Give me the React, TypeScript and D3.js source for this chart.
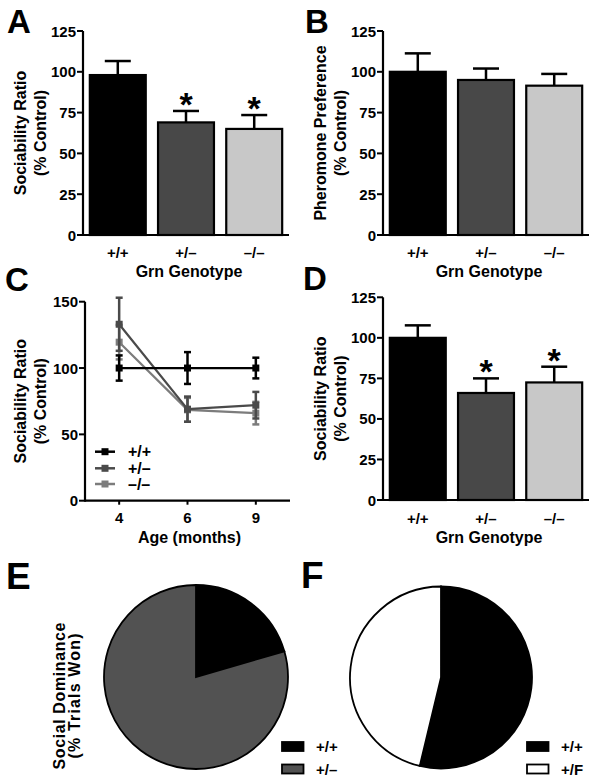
import React from "react";
import * as d3 from "d3";

// ---------- data ----------
const genotypes = ["+/+", "+/–", "–/–"];
const barColors = ["#000000", "#484848", "#c8c8c8"];

const sociabilityA = [98, 69, 65];
const semA = [8.6, 7, 8.5];
const sigA = [false, true, true];

const pheromoneB = [100, 95, 91.5];
const semB = [11.3, 7, 7.2];
const sigB = [false, false, false];

const sociabilityD = [100, 66, 72.5];
const semD = [7.7, 9, 9.7];
const sigD = [false, true, true];

const barTicks = [0, 25, 50, 75, 100, 125];

const ages = [4, 6, 9];
const ageTicks = [0, 50, 100, 150];
const wtC = [100, 100, 100];
const wtErrC = [9.5, 12, 7.8];
const hetC = [133, 69, 72];
const hetErrC = [20, 9.5, 10];
const koC = [119.5, 68.5, 66];
const koErrC = [13, 9, 8.5];
const lineColors = ["#000000", "#4a4a4a", "#7c7c7c"];

const dominanceE = [20.5, 79.5];
const pieColorsE = ["#000000", "#525252"];
const legendE = ["+/+", "+/–"];

const dominanceF = [53.75, 46.25];
const pieColorsF = ["#000000", "#ffffff"];
const legendF = ["+/+", "+/F"];

const FONT = "'Liberation Sans', Arial, Helvetica, sans-serif";

// ---------- components ----------
function YAxis({ x, scale, ticks }: { x: number; scale: any; ticks: number[] }) {
  const [r0, r1] = scale.range();
  return (
    <g>
      <line x1={x} x2={x} y1={r0 + 1} y2={r1} stroke="#000" strokeWidth={2.2} />
      {ticks.map((t) => (
        <g key={t}>
          <line x1={x - 6} x2={x} y1={scale(t)} y2={scale(t)} stroke="#000" strokeWidth={2} />
          <text
            x={x - 7}
            y={scale(t)}
            textAnchor="end"
            dominantBaseline="central"
            fontSize={15}
            fontWeight="bold"
          >
            {t}
          </text>
        </g>
      ))}
    </g>
  );
}

function YLabel({ x1, x2, cy, l1, l2 }: { x1: number; x2: number; cy: number; l1: string; l2: string }) {
  return (
    <g>
      <text
        transform={`translate(${x1},${cy}) rotate(-90)`}
        textAnchor="middle"
        dominantBaseline="central"
        fontSize={16}
        fontWeight="bold"
      >
        {l1}
      </text>
      <text
        transform={`translate(${x2},${cy}) rotate(-90)`}
        textAnchor="middle"
        dominantBaseline="central"
        fontSize={16}
        fontWeight="bold"
      >
        {l2}
      </text>
    </g>
  );
}

function BarPanel({
  ox,
  yTop,
  yBottom,
  values,
  sems,
  sig,
  label1,
  label2,
  tickY,
  titleY,
}: {
  ox: number;
  yTop: number;
  yBottom: number;
  values: number[];
  sems: number[];
  sig: boolean[];
  label1: string;
  label2: string;
  tickY: number;
  titleY: number;
}) {
  const axisX = ox + 83;
  const xEnd = ox + 289;
  const y = d3.scaleLinear().domain([0, 125]).range([yBottom, yTop]);
  const x = d3.scaleBand<string>().domain(genotypes).range([axisX, xEnd]).paddingInner(0.18).paddingOuter(0.1);
  return (
    <g>
      {genotypes.map((g, i) => {
        const bx = x(g)!;
        const bw = x.bandwidth();
        const cx = bx + bw / 2;
        const top = y(values[i]);
        const errTop = y(values[i] + sems[i]);
        return (
          <g key={g}>
            <line x1={cx} x2={cx} y1={top} y2={errTop} stroke="#000" strokeWidth={2.5} />
            <line x1={cx - 13} x2={cx + 13} y1={errTop} y2={errTop} stroke="#000" strokeWidth={2.5} />
            <rect
              x={bx}
              y={top}
              width={bw}
              height={yBottom - top}
              fill={barColors[i]}
              stroke="#000"
              strokeWidth={2.2}
            />
            {sig[i] && (
              <text x={cx} y={errTop + 5} textAnchor="middle" fontSize={34} fontWeight="bold">
                *
              </text>
            )}
            <text x={cx} y={tickY} textAnchor="middle" dominantBaseline="central" fontSize={15} fontWeight="bold">
              {g}
            </text>
          </g>
        );
      })}
      <line x1={axisX} x2={xEnd} y1={yBottom} y2={yBottom} stroke="#000" strokeWidth={2.2} />
      <YAxis x={axisX} scale={y} ticks={barTicks} />
      <text
        x={(axisX + xEnd) / 2 + 3}
        y={titleY}
        textAnchor="middle"
        dominantBaseline="central"
        fontSize={16}
        fontWeight="bold"
      >
        Grn Genotype
      </text>
      <YLabel x1={ox + 20} x2={ox + 40} cy={(yTop + yBottom) / 2} l1={label1} l2={label2} />
    </g>
  );
}

function LinePanel() {
  const axisX = 85;
  const xEnd = 290;
  const yTop = 301.7;
  const yBottom = 500.7;
  const y = d3.scaleLinear().domain([0, 150]).range([yBottom, yTop]);
  const x = d3.scalePoint<number>().domain(ages).range([axisX, xEnd]).padding(0.5);
  const series = [
    { name: "–/–", vals: koC, errs: koErrC, color: lineColors[2] },
    { name: "+/–", vals: hetC, errs: hetErrC, color: lineColors[1] },
    { name: "+/+", vals: wtC, errs: wtErrC, color: lineColors[0] },
  ];
  const line = d3
    .line<number>()
    .x((_, i) => x(ages[i])!)
    .y((v) => y(v));
  const legend = [
    { name: "+/+", color: lineColors[0] },
    { name: "+/–", color: lineColors[1] },
    { name: "–/–", color: lineColors[2] },
  ];
  const legendY = [451.7, 468.3, 484];
  return (
    <g>
      {series.map((s) => (
        <g key={s.name}>
          <path d={line(s.vals) || ""} fill="none" stroke={s.color} strokeWidth={2.2} />
          {s.vals.map((v, i) => {
            const cx = x(ages[i])!;
            const hi = y(v + s.errs[i]);
            const lo = y(v - s.errs[i]);
            return (
              <g key={i}>
                <line x1={cx} x2={cx} y1={hi} y2={lo} stroke={s.color} strokeWidth={2.5} />
                <line x1={cx - 3.5} x2={cx + 3.5} y1={hi} y2={hi} stroke={s.color} strokeWidth={2.5} />
                <line x1={cx - 3.5} x2={cx + 3.5} y1={lo} y2={lo} stroke={s.color} strokeWidth={2.5} />
                <rect x={cx - 3.5} y={y(v) - 3.5} width={7} height={7} fill={s.color} />
              </g>
            );
          })}
        </g>
      ))}
      <line x1={axisX} x2={xEnd} y1={yBottom} y2={yBottom} stroke="#000" strokeWidth={2.2} />
      {ages.map((a) => (
        <g key={a}>
          <line x1={x(a)!} x2={x(a)!} y1={yBottom} y2={yBottom + 4} stroke="#000" strokeWidth={2} />
          <text x={x(a)!} y={517} textAnchor="middle" dominantBaseline="central" fontSize={15} fontWeight="bold">
            {a}
          </text>
        </g>
      ))}
      <YAxis x={axisX} scale={y} ticks={ageTicks} />
      <text x={(axisX + xEnd) / 2 + 2} y={537} textAnchor="middle" dominantBaseline="central" fontSize={16} fontWeight="bold">
        Age (months)
      </text>
      <YLabel x1={20} x2={40} cy={(yTop + yBottom) / 2} l1="Sociability Ratio" l2="(% Control)" />
      {legend.map((l, i) => (
        <g key={l.name}>
          <line x1={95} x2={115} y1={legendY[i]} y2={legendY[i]} stroke={l.color} strokeWidth={2.5} />
          <rect x={101.5} y={legendY[i] - 3.5} width={7} height={7} fill={l.color} />
          <text x={128} y={legendY[i]} dominantBaseline="central" fontSize={16} fontWeight="bold">
            {l.name}
          </text>
        </g>
      ))}
    </g>
  );
}

function PiePanel({
  cx,
  cy,
  r,
  values,
  colors,
  legend,
  legendX,
}: {
  cx: number;
  cy: number;
  r: number;
  values: number[];
  colors: string[];
  legend: string[];
  legendX: number;
}) {
  const pie = d3.pie<number>().sort(null).value((d) => d);
  const arc = d3.arc<d3.PieArcDatum<number>>().innerRadius(0).outerRadius(r);
  const arcs = pie(values);
  const legendY = [746.5, 769];
  return (
    <g>
      <g transform={`translate(${cx},${cy})`}>
        {arcs.map((a, i) => (
          <path key={i} d={arc(a) || ""} fill={colors[i]} stroke="#000" strokeWidth={1.8} />
        ))}
      </g>
      {legend.map((l, i) => (
        <g key={l}>
          <rect
            x={legendX + 1}
            y={legendY[i] - 4.5}
            width={21.5}
            height={9}
            fill={colors[i]}
            stroke="#000"
            strokeWidth={1.8}
          />
          <text x={legendX + 35} y={legendY[i]} dominantBaseline="central" fontSize={15} fontWeight="bold">
            {l}
          </text>
        </g>
      ))}
    </g>
  );
}

export default function App() {
  return (
    <svg
      width={600}
      height={783}
      style={{ position: "absolute", left: 0, top: 0, display: "block", background: "#fff" }}
      fontFamily={FONT}
    >
      <rect x={0} y={0} width={600} height={783} fill="#fff" />
      <BarPanel
        ox={0}
        yTop={31}
        yBottom={235}
        values={sociabilityA}
        sems={semA}
        sig={sigA}
        label1="Sociability Ratio"
        label2="(% Control)"
        tickY={252}
        titleY={271}
      />
      <BarPanel
        ox={300}
        yTop={31}
        yBottom={235}
        values={pheromoneB}
        sems={semB}
        sig={sigB}
        label1="Pheromone Preference"
        label2="(% Control)"
        tickY={252}
        titleY={271}
      />
      <LinePanel />
      <BarPanel
        ox={300}
        yTop={297.3}
        yBottom={500}
        values={sociabilityD}
        sems={semD}
        sig={sigD}
        label1="Sociability Ratio"
        label2="(% Control)"
        tickY={518}
        titleY={537}
      />
      <PiePanel cx={196} cy={677} r={92} values={dominanceE} colors={pieColorsE} legend={legendE} legendX={281} />
      <PiePanel cx={441} cy={677.5} r={91} values={dominanceF} colors={pieColorsF} legend={legendF} legendX={526} />
      <g fontWeight="bold" fontSize={16}>
        <text
          transform="translate(59,696) rotate(-90)"
          textAnchor="middle"
          dominantBaseline="central"
          textLength={147}
          lengthAdjust="spacing"
        >
          Social Dominance
        </text>
        <text
          transform="translate(74,696) rotate(-90)"
          textAnchor="middle"
          dominantBaseline="central"
          textLength={125}
          lengthAdjust="spacing"
        >
          (% Trials Won)
        </text>
      </g>
      <g fontWeight="bold">
        <text x={7} y={33} fontSize={33}>A</text>
        <text x={305} y={33} fontSize={33}>B</text>
        <text x={5} y={291} fontSize={33}>C</text>
        <text x={303} y={290} fontSize={33}>D</text>
        <text x={6} y={589} fontSize={37}>E</text>
        <text x={301} y={588} fontSize={37}>F</text>
      </g>
    </svg>
  );
}
